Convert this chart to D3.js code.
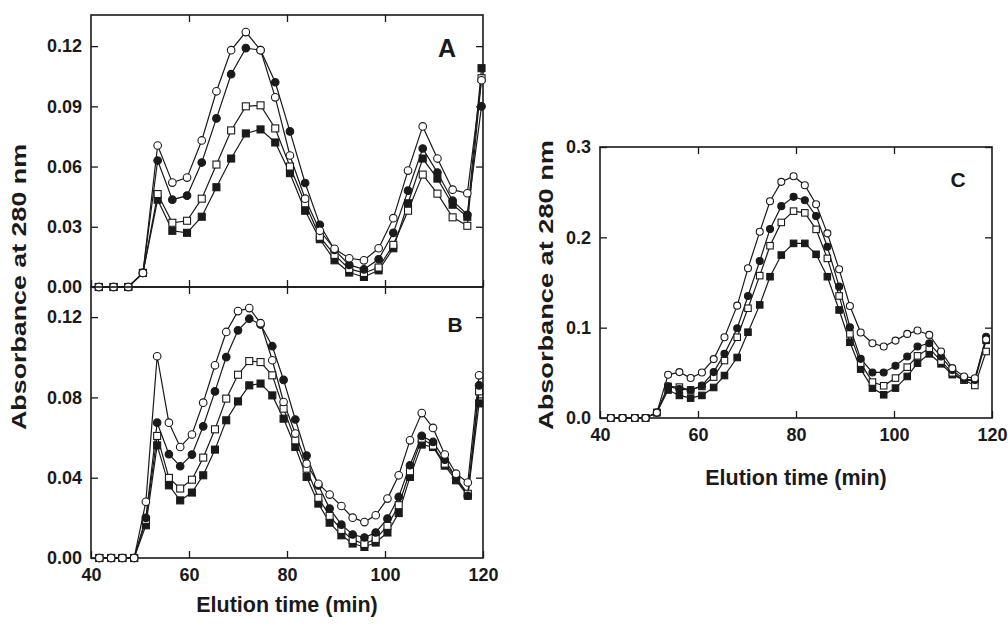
<!DOCTYPE html>
<html>
<head>
<meta charset="utf-8">
<script src="https://cdn.jsdelivr.net/npm/d3@7"></script>
<style>
  html, body { margin: 0; padding: 0; background: #fff; }
  svg { display: block; }
  text { font-family: "Liberation Sans", Arial, sans-serif; font-weight: bold; fill: #1a1a1a; }
</style>
</head>
<body>
<svg id="chart" width="1008" height="629"></svg>
<script>
// ---------- Data ----------
const xTicks = [40, 60, 80, 100, 120];
const yTicksA = [0, 0.03, 0.06, 0.09, 0.12];
const yTicksB = [0, 0.04, 0.08, 0.12];
const yTicksC = [0, 0.1, 0.2, 0.3];

// Panel A (elution time, min)
const timeA = [41.6, 44.6, 47.6, 50.6, 53.6, 56.6, 59.6, 62.6, 65.6, 68.6, 71.6, 74.6, 77.6, 80.6, 83.7, 86.7, 89.7, 92.7, 95.7, 98.7, 101.7, 104.7, 107.7, 110.7, 113.8, 116.8, 119.7];
const aOpenCircle   = [0, 0, 0, 0.007, 0.0705, 0.052, 0.0545, 0.073, 0.0975, 0.118, 0.127, 0.118, 0.0945, 0.0655, 0.044, 0.028, 0.019, 0.0143, 0.0133, 0.0193, 0.0343, 0.058, 0.080, 0.064, 0.0485, 0.0467, 0.103];
const aFilledCircle = [0, 0, 0, 0.007, 0.063, 0.0435, 0.0455, 0.062, 0.084, 0.106, 0.119, 0.118, 0.102, 0.0775, 0.0518, 0.031, 0.0185, 0.011, 0.0088, 0.0138, 0.027, 0.048, 0.069, 0.057, 0.043, 0.036, 0.090];
const aOpenSquare   = [0, 0, 0, 0.007, 0.0463, 0.032, 0.033, 0.044, 0.061, 0.078, 0.090, 0.0905, 0.079, 0.060, 0.0417, 0.025, 0.016, 0.009, 0.007, 0.0097, 0.021, 0.038, 0.056, 0.0465, 0.0347, 0.0305, 0.104];
const aFilledSquare = [0, 0, 0, 0.007, 0.0435, 0.028, 0.027, 0.035, 0.0497, 0.064, 0.0765, 0.0785, 0.072, 0.0567, 0.038, 0.0238, 0.0133, 0.0072, 0.005, 0.0083, 0.0193, 0.0417, 0.064, 0.054, 0.041, 0.035, 0.109];

// Panel B
const timeB = [41.7, 44.1, 46.4, 48.8, 51.2, 53.5, 55.9, 58.2, 60.6, 62.9, 65.3, 67.6, 70.0, 72.3, 74.6, 77.0, 79.3, 81.7, 84.0, 86.4, 88.7, 91.1, 93.4, 95.8, 98.1, 100.5, 102.8, 105.1, 107.5, 109.8, 112.2, 114.5, 116.9, 119.2];
const bOpenCircle   = [0, 0, 0, 0, 0.028, 0.1005, 0.0674, 0.0553, 0.0615, 0.0774, 0.096, 0.1126, 0.123, 0.1245, 0.117, 0.0985, 0.0777, 0.062, 0.047, 0.037, 0.0316, 0.0259, 0.0201, 0.0179, 0.0213, 0.0296, 0.0412, 0.0586, 0.0722, 0.0648, 0.0515, 0.042, 0.0376, 0.091];
const bFilledCircle = [0, 0, 0, 0, 0.020, 0.0674, 0.0517, 0.0457, 0.0515, 0.0656, 0.083, 0.1001, 0.1134, 0.1192, 0.1163, 0.1055, 0.0887, 0.069, 0.051, 0.0362, 0.0246, 0.0166, 0.0117, 0.0102, 0.0127, 0.0196, 0.0304, 0.0462, 0.0608, 0.0578, 0.049, 0.040, 0.031, 0.086];
const bOpenSquare   = [0, 0, 0, 0, 0.019, 0.0608, 0.0399, 0.0346, 0.039, 0.050, 0.0641, 0.0794, 0.0913, 0.0981, 0.0976, 0.091, 0.0744, 0.0586, 0.0445, 0.030, 0.021, 0.014, 0.009, 0.007, 0.0095, 0.016, 0.0263, 0.0432, 0.0595, 0.056, 0.047, 0.040, 0.032, 0.083];
const bFilledSquare = [0, 0, 0, 0, 0.0163, 0.0561, 0.0362, 0.0287, 0.0326, 0.0412, 0.054, 0.0686, 0.078, 0.086, 0.0869, 0.081, 0.0694, 0.0553, 0.0404, 0.0271, 0.0176, 0.0113, 0.0072, 0.0055, 0.0077, 0.0127, 0.0224, 0.0404, 0.0565, 0.0553, 0.046, 0.0387, 0.031, 0.077];

// Panel C
const timeC = [42.2, 44.6, 47.1, 49.3, 51.6, 53.9, 56.2, 58.5, 60.8, 63.2, 65.4, 68.0, 70.2, 72.6, 74.7, 77.0, 79.5, 81.8, 84.1, 86.4, 88.8, 91.0, 93.2, 95.6, 97.9, 100.3, 102.7, 104.8, 107.2, 109.6, 111.9, 114.3, 116.5, 118.8];
const cOpenCircle   = [0, 0, 0, 0, 0.006, 0.0478, 0.0508, 0.0442, 0.0504, 0.0652, 0.0894, 0.1244, 0.1657, 0.2061, 0.240, 0.2614, 0.2676, 0.2577, 0.2367, 0.2044, 0.1646, 0.124, 0.0946, 0.0828, 0.0791, 0.0857, 0.0931, 0.0968, 0.092, 0.0736, 0.0552, 0.046, 0.044, 0.087];
const cFilledCircle = [0, 0, 0, 0, 0.006, 0.035, 0.032, 0.031, 0.036, 0.0508, 0.071, 0.0994, 0.1351, 0.1738, 0.2091, 0.2345, 0.2448, 0.2411, 0.2235, 0.1896, 0.1454, 0.1005, 0.0655, 0.0504, 0.0504, 0.0578, 0.068, 0.0791, 0.0828, 0.068, 0.053, 0.043, 0.042, 0.090];
const cOpenSquare   = [0, 0, 0, 0, 0.006, 0.035, 0.0342, 0.031, 0.035, 0.0453, 0.0636, 0.0894, 0.1215, 0.1576, 0.1907, 0.2165, 0.229, 0.2271, 0.2088, 0.1767, 0.1351, 0.0931, 0.0607, 0.0398, 0.0357, 0.0442, 0.0563, 0.0688, 0.0773, 0.063, 0.050, 0.042, 0.036, 0.0736];
const cFilledSquare = [0, 0, 0, 0, 0.006, 0.031, 0.025, 0.022, 0.025, 0.0338, 0.047, 0.067, 0.095, 0.1252, 0.1564, 0.1804, 0.1933, 0.1933, 0.1812, 0.1564, 0.1196, 0.0839, 0.0541, 0.0331, 0.0257, 0.0331, 0.046, 0.0607, 0.071, 0.060, 0.048, 0.042, 0.041, 0.086];

// ---------- Drawing ----------
const svg = d3.select("#chart");
svg.append("rect").attr("width", 1008).attr("height", 629).attr("fill", "#fff");

const INK = "#1a1a1a";

function panel(opts) {
  const { x0, x1, yTop, yBot, yMax, yTicks, yFmt, time, series, label, labelPos, labelSize,
          showXLabels, mk } = opts;
  const x = d3.scaleLinear().domain([40, 120]).range([x0, x1]);
  const y = d3.scaleLinear().domain([0, yMax]).range([yBot, yTop]);
  const g = svg.append("g");
  const T = 7;

  const ax = g.append("g").attr("transform", `translate(${x0},0)`)
    .call(d3.axisLeft(y).tickValues(yTicks).tickFormat(d3.format(yFmt)).tickSizeInner(-T).tickSizeOuter(0).tickPadding(9));
  const bx = g.append("g").attr("transform", `translate(0,${yBot})`)
    .call(d3.axisBottom(x).tickValues(xTicks).tickFormat(showXLabels ? d3.format("d") : () => "").tickSizeInner(-T).tickSizeOuter(0).tickPadding(10));
  const tx = g.append("g").attr("transform", `translate(0,${yTop})`)
    .call(d3.axisTop(x).tickValues(xTicks.slice(1, -1)).tickFormat(() => "").tickSizeInner(-T).tickSizeOuter(0));
  const rx = g.append("g").attr("transform", `translate(${x1},0)`)
    .call(d3.axisRight(y).tickValues(yTicks.filter(v => v > 0)).tickFormat(() => "").tickSizeInner(-T).tickSizeOuter(0));
  [ax, bx, tx, rx].forEach(a => {
    a.select(".domain").remove();
    a.selectAll("line").attr("stroke", INK).attr("stroke-width", 1.3);
    a.selectAll("text").attr("font-size", 18).attr("font-family", "'Liberation Sans', Arial, sans-serif")
      .attr("font-weight", "bold").attr("fill", INK);
  });

  g.append("rect").attr("x", x0).attr("y", yTop).attr("width", x1 - x0).attr("height", yBot - yTop)
    .attr("fill", "none").attr("stroke", INK).attr("stroke-width", 1.6);

  const line = d3.line().x(d => x(d[0])).y(d => y(d[1]));
  series.forEach(s => {
    const pts = time.map((t, i) => [t, s.values[i]]);
    g.append("path").datum(pts).attr("d", line).attr("fill", "none").attr("stroke", INK).attr("stroke-width", 1.2);
  });
  series.forEach(s => {
    const pts = time.map((t, i) => [t, s.values[i]]);
    const fill = s.filled ? INK : "#fff";
    if (s.shape === "circle") {
      g.selectAll(null).data(pts).enter().append("circle")
        .attr("cx", d => x(d[0])).attr("cy", d => y(d[1])).attr("r", mk.r)
        .attr("fill", fill).attr("stroke", INK).attr("stroke-width", 1.1);
    } else {
      g.selectAll(null).data(pts).enter().append("rect")
        .attr("x", d => x(d[0]) - mk.s / 2).attr("y", d => y(d[1]) - mk.s / 2)
        .attr("width", mk.s).attr("height", mk.s)
        .attr("fill", fill).attr("stroke", INK).attr("stroke-width", 1.1);
    }
  });

  g.append("text").attr("x", labelPos[0]).attr("y", labelPos[1]).attr("text-anchor", "middle")
    .attr("font-size", labelSize).text(label);
  return { x, y };
}

const mkAB = { r: 3.8, s: 7 };
panel({ x0: 91, x1: 483, yTop: 15, yBot: 287, yMax: 0.1355, yTicks: yTicksA, yFmt: ".2f", time: timeA,
  series: [
    { values: aFilledSquare, shape: "square", filled: true },
    { values: aOpenSquare, shape: "square", filled: false },
    { values: aFilledCircle, shape: "circle", filled: true },
    { values: aOpenCircle, shape: "circle", filled: false }
  ], label: "A", labelPos: [447, 57], labelSize: 25, showXLabels: false, mk: mkAB });

panel({ x0: 91, x1: 483, yTop: 287, yBot: 558, yMax: 0.135, yTicks: yTicksB, yFmt: ".2f", time: timeB,
  series: [
    { values: bFilledSquare, shape: "square", filled: true },
    { values: bOpenSquare, shape: "square", filled: false },
    { values: bFilledCircle, shape: "circle", filled: true },
    { values: bOpenCircle, shape: "circle", filled: false }
  ], label: "B", labelPos: [455, 332], labelSize: 21, showXLabels: true, mk: mkAB });

panel({ x0: 600, x1: 992, yTop: 147, yBot: 418, yMax: 0.3, yTicks: yTicksC, yFmt: ".1f", time: timeC,
  series: [
    { values: cFilledSquare, shape: "square", filled: true },
    { values: cOpenSquare, shape: "square", filled: false },
    { values: cFilledCircle, shape: "circle", filled: true },
    { values: cOpenCircle, shape: "circle", filled: false }
  ], label: "C", labelPos: [958, 187], labelSize: 21, showXLabels: true, mk: { r: 3.5, s: 6.5 } });

// axis titles
svg.append("text").attr("transform", "translate(26,287) rotate(-90)").attr("text-anchor", "middle")
  .attr("font-size", 21).attr("textLength", 286).attr("lengthAdjust", "spacingAndGlyphs")
  .text("Absorbance at 280 nm");
svg.append("text").attr("x", 287).attr("y", 612).attr("text-anchor", "middle")
  .attr("font-size", 21.5).text("Elution time (min)");
svg.append("text").attr("transform", "translate(553,285) rotate(-90)").attr("text-anchor", "middle")
  .attr("font-size", 21).attr("textLength", 290).attr("lengthAdjust", "spacingAndGlyphs")
  .text("Absorbance at 280 nm");
svg.append("text").attr("x", 796).attr("y", 485).attr("text-anchor", "middle")
  .attr("font-size", 21.5).text("Elution time (min)");
</script>
</body>
</html>
